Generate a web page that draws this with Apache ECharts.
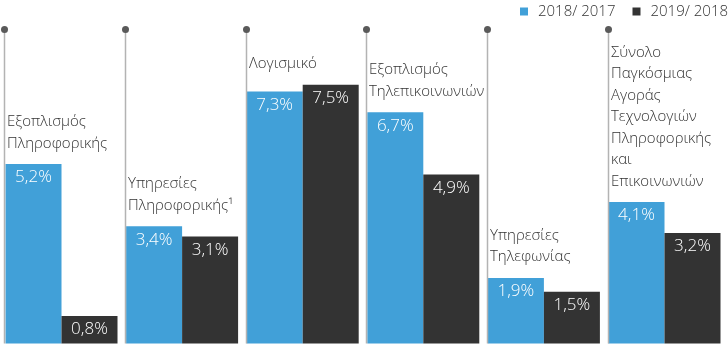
<!DOCTYPE html>
<html>
<head>
<meta charset="utf-8">
<script src="https://cdn.jsdelivr.net/npm/echarts@6/dist/echarts.min.js"></script>
<style>
  html, body { margin: 0; padding: 0; background: #ffffff; }
  #chart { width: 728px; height: 349px; }
</style>
</head>
<body>
<div id="chart"></div>
<script>
// Market segments (labels wrap onto several lines)
const categories = [
  'Εξοπλισμός\nΠληροφορικής',
  'Υπηρεσίες\nΠληροφορικής¹',
  'Λογισμικό',
  'Εξοπλισμός\nΤηλεπικοινωνιών',
  'Υπηρεσίες\nΤηλεφωνίας',
  'Σύνολο\nΠαγκόσμιας\nΑγοράς\nΤεχνολογιών\nΠληροφορικής\nκαι\nΕπικοινωνιών'
];
const seriesNames = ['2018/ 2017', '2019/ 2018'];
// Annual growth, %
const growth2018 = [5.2, 3.4, 7.3, 6.7, 1.9, 4.1];
const growth2019 = [0.8, 3.1, 7.5, 4.9, 1.5, 3.2];

const BLUE = '#41a0d8';
const DARK = '#333333';
const FONT = '"Open Sans", "Noto Sans", sans-serif';
const Y_MAX = 9.1;
const BAR_W = 56;

const fmt = v => v.toFixed(1).replace('.', ',') + '%';

// each group: divider line + dot, and its caption above the taller bar
const guideData = categories.map((c, i) => [i, Math.max(growth2018[i], growth2019[i])]);

const chart = echarts.init(document.getElementById('chart'), null, { renderer: 'canvas' });

const valueLabel = {
  show: true,
  position: 'insideTop',
  distance: 5,
  color: '#fff',
  fontFamily: FONT,
  fontWeight: 300,
  fontSize: 17,
  formatter: p => fmt(p.value)
};

chart.setOption({
  animation: false,
  grid: { left: 1.2, right: 3.2, top: 29.5, bottom: 5.5, containLabel: false },
  legend: {
    right: 0,
    top: 4,
    padding: 0,
    itemWidth: 8,
    itemHeight: 8,
    itemGap: 17,
    icon: 'rect',
    textStyle: { fontFamily: FONT, fontWeight: 300, fontSize: 15, color: '#333', padding: [0, 0, 0, 5] },
    data: seriesNames
  },
  xAxis: {
    type: 'category',
    data: categories,
    axisLine: { show: false },
    axisTick: { show: false },
    axisLabel: { show: false },
    splitLine: { show: false }
  },
  yAxis: {
    type: 'value',
    min: 0,
    max: Y_MAX,
    show: false,
    splitLine: { show: false }
  },
  series: [
    {
      name: seriesNames[0],
      type: 'bar',
      data: growth2018,
      barWidth: BAR_W,
      barGap: '0%',
      itemStyle: { color: BLUE },
      label: valueLabel,
      z: 2
    },
    {
      name: seriesNames[1],
      type: 'bar',
      data: growth2019,
      barWidth: BAR_W,
      barGap: '0%',
      itemStyle: { color: DARK },
      label: valueLabel,
      z: 2
    },
    {
      type: 'custom',
      data: guideData,
      silent: true,
      z: 3,
      renderItem: function (params, api) {
        const i = api.value(0);
        const base = api.coord([i, 0]);
        const top = api.coord([i, Y_MAX]);
        const peak = api.coord([i, api.value(1)]);
        const x = Math.round(base[0] - BAR_W - 1) + 0.5;
        return {
          type: 'group',
          children: [
            {
              type: 'line',
              shape: { x1: x, y1: top[1], x2: x, y2: base[1] },
              style: { stroke: '#b3b3b3', lineWidth: 1.5 }
            },
            {
              type: 'circle',
              shape: { cx: x, cy: top[1], r: 3.5 },
              style: { fill: '#5a5a5a' }
            },
            {
              type: 'text',
              x: x + 2.5,
              y: peak[1] - 10,
              style: {
                text: categories[i],
                fill: '#333',
                font: '300 15px ' + FONT,
                lineHeight: 21.5,
                align: 'left',
                verticalAlign: 'bottom'
              }
            }
          ]
        };
      }
    }
  ]
});
</script>
</body>
</html>
